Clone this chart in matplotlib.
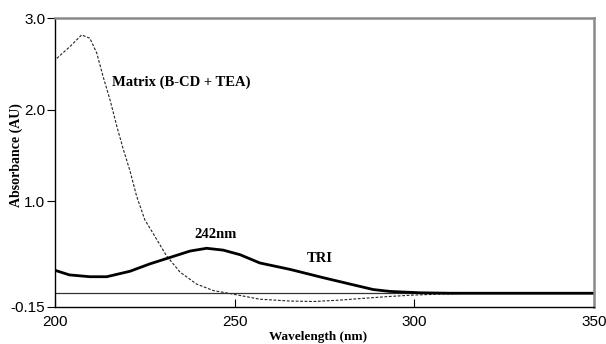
import numpy as np
import matplotlib.pyplot as plt

# spectra
wl_matrix = [200.5, 204.2, 207.4, 209.7, 211.6, 213.4, 215.3, 217.2, 219.0, 220.9,
             222.7, 225.0, 227.8, 231.0, 234.8, 239.4, 244.0, 249.6, 257.0, 265.4,
             272.0, 279.3, 286.0, 293.2, 299.7, 307.0, 315.5, 324.0]
abs_matrix = [2.56, 2.69, 2.815, 2.78, 2.62, 2.36, 2.11, 1.82, 1.57, 1.33,
              1.06, 0.80, 0.62, 0.41, 0.23, 0.10, 0.03, -0.01, -0.065, -0.085,
              -0.09, -0.075, -0.055, -0.035, -0.02, -0.01, 0.0, 0.0]

wl_tri = [200, 204, 209.7, 214.4, 220.9, 226.4, 232.0, 237.6, 242.2, 246.8,
          251.5, 257.0, 265.4, 274.6, 282.1, 288.6, 293.2, 301.6, 310, 350]
abs_tri = [0.25, 0.20, 0.18, 0.18, 0.24, 0.32, 0.39, 0.46, 0.49, 0.47,
           0.42, 0.33, 0.26, 0.17, 0.10, 0.04, 0.02, 0.005, 0.0, 0.0]

xticks = [200, 250, 300, 350]
yticks = [-0.15, 1.0, 2.0, 3.0]
ytick_labels = ['-0.15', '1.0', '2.0', '3.0']

serif = 'Liberation Serif'
sans = 'Liberation Sans'

fig = plt.figure(figsize=(6.06, 3.44), dpi=100)
ax = fig.add_axes([55 / 606, 1 - 307 / 344, 539 / 606, 289 / 344])

ax.axhline(0, color='#333333', lw=0.9)
ax.plot(wl_matrix, abs_matrix, color='#222222', lw=0.8, ls=(0, (2.5, 1.5)),
        dash_joinstyle='round')
ax.plot(wl_tri, abs_tri, color='black', lw=2.0, solid_joinstyle='round')

ax.set_xlim(200, 350)
ax.set_ylim(-0.15, 3.0)
ax.set_xticks(xticks)
ax.set_yticks(yticks)
ax.set_yticklabels(ytick_labels)
ax.tick_params(axis='x', direction='in', length=6, labelsize=11, pad=6)
ax.tick_params(axis='y', direction='out', length=6, labelsize=11, pad=1)
for lab in ax.get_xticklabels() + ax.get_yticklabels():
    lab.set_fontfamily(sans)

for s in ['top', 'right']:
    ax.spines[s].set_color('#8a8a8a')
    ax.spines[s].set_linewidth(1.8)
for s in ['left', 'bottom']:
    ax.spines[s].set_color('black')
    ax.spines[s].set_linewidth(1.0)

fig.text(318 / 606, 1 - 337 / 344, 'Wavelength (nm)', fontfamily=serif, fontweight='bold',
         fontsize=9.5, ha='center', va='center')
fig.text(16 / 606, 1 - 155 / 344, 'Absorbance (AU)', fontfamily=serif, fontweight='bold',
         fontsize=10, ha='center', va='center', rotation=90)

ax.text(216, 2.30, 'Matrix (B-CD + TEA)', fontfamily=serif, fontweight='bold',
        fontsize=10.5, va='center', ha='left')
ax.text(244.8, 0.64, '242nm', fontfamily=serif, fontweight='bold',
        fontsize=10.5, va='center', ha='center')
ax.text(273.6, 0.38, 'TRI', fontfamily=serif, fontweight='bold',
        fontsize=10.5, va='center', ha='center')

fig.savefig('out.png', dpi=100)
